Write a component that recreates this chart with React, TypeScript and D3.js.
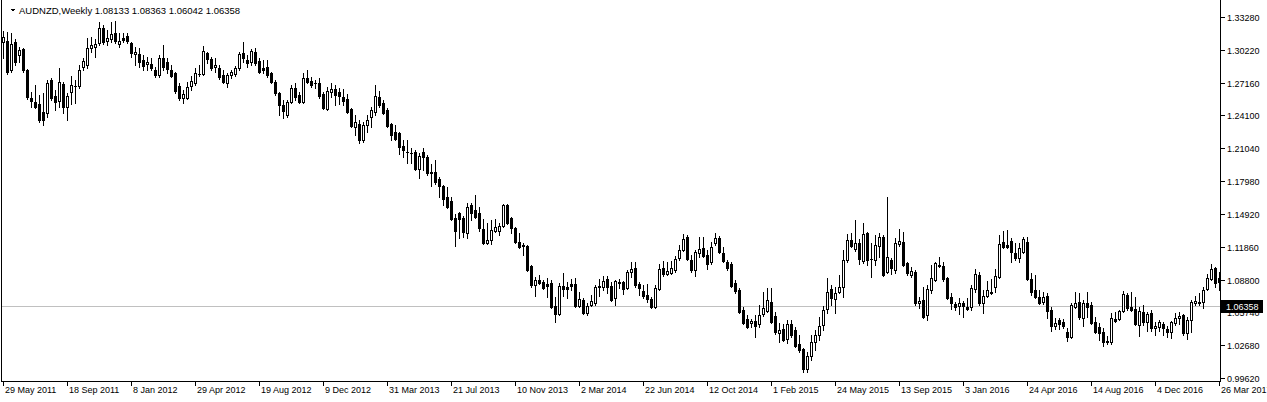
import React from 'react';
import * as d3 from 'd3';

const symbolTitle = 'AUDNZD,Weekly';
const lastBar = [1.08133, 1.08363, 1.06042, 1.06358];
const currentPrice = 1.06358;

const timeTickIndex = [0, 16, 32, 48, 64, 80, 96, 112, 128, 144, 160, 176, 192, 208, 224, 240, 256, 272, 288, 304];
const timeTickLabels = ['29 May 2011', '18 Sep 2011', '8 Jan 2012', '29 Apr 2012', '19 Aug 2012', '9 Dec 2012', '31 Mar 2013', '21 Jul 2013', '10 Nov 2013', '2 Mar 2014', '22 Jun 2014', '12 Oct 2014', '1 Feb 2015', '24 May 2015', '13 Sep 2015', '3 Jan 2016', '24 Apr 2016', '14 Aug 2016', '4 Dec 2016', '26 Mar 2017'];
const priceTicks = [1.3328, 1.3022, 1.2716, 1.241, 1.2104, 1.1798, 1.1492, 1.1186, 1.088, 1.0574, 1.0268, 0.9962];

const opens = [
1.3095,1.3104,1.2834,1.3095,1.2974,1.3030,1.2834,1.2573,1.2535,1.2517,
1.2442,1.2433,1.2741,1.2591,1.2545,1.2703,1.2489,1.2629,1.2685,1.2685,
1.2862,1.2880,1.3039,1.3048,1.3086,1.3226,1.3104,1.3123,1.3179,1.3076,
1.3132,1.3151,1.3086,1.2983,1.2983,1.2927,1.2890,1.2890,1.2834,1.2787,
1.2946,1.2908,1.2834,1.2806,1.2685,1.2573,1.2573,1.2685,1.2713,1.2798,
1.2796,1.2992,1.2936,1.2862,1.2852,1.2787,1.2713,1.2787,1.2796,1.2852,
1.2992,1.2927,1.2908,1.3002,1.2918,1.2852,1.2862,1.2806,1.2722,1.2619,
1.2507,1.2414,1.2535,1.2666,1.2601,1.2535,1.2759,1.2731,1.2713,1.2713,
1.2610,1.2470,1.2629,1.2657,1.2629,1.2582,1.2563,1.2470,1.2302,1.2330,
1.2181,1.2321,1.2395,1.2442,1.2582,1.2526,1.2461,1.2330,1.2256,1.2246,
1.2125,1.2069,1.2060,1.2069,1.1911,1.2069,1.2022,1.1883,1.1883,1.1817,
1.1752,1.1649,1.1612,1.1454,1.1500,1.1454,1.1314,1.1575,1.1528,1.1500,
1.1351,1.1221,1.1249,1.1332,1.1332,1.1379,1.1575,1.1454,1.1360,1.1230,
1.1202,1.1193,1.1006,1.0829,1.0876,1.0857,1.0838,1.0848,1.0633,1.0559,
1.0820,1.0810,1.0838,1.0838,1.0633,1.0689,1.0568,1.0643,1.0661,1.0810,
1.0810,1.0885,1.0820,1.0708,1.0848,1.0857,1.0801,1.0950,1.0987,1.0838,
1.0773,1.0736,1.0699,1.0624,1.0792,1.0987,1.0931,1.0941,1.0969,1.1081,
1.1155,1.1276,1.1062,1.0969,1.1127,1.1174,1.1109,1.1043,1.1221,1.1267,
1.1127,1.1043,1.1025,1.0848,1.0783,1.0596,1.0512,1.0475,1.0493,1.0465,
1.0559,1.0587,1.0671,1.0540,1.0382,1.0419,1.0326,1.0465,1.0410,1.0279,
1.0232,1.0046,1.0167,1.0298,1.0363,1.0456,1.0605,1.0792,1.0699,1.0764,
1.0810,1.1062,1.1249,1.1165,1.1221,1.1053,1.1314,1.1071,1.1062,1.1193,
1.1276,1.0950,1.1062,1.0969,1.1211,1.1230,1.1034,1.0922,1.0950,1.0661,
1.0689,1.0549,1.0783,1.0876,1.1015,1.1006,1.0894,1.0717,1.0652,1.0633,
1.0661,1.0624,1.0624,1.0792,1.0922,1.0661,1.0727,1.0764,1.0810,1.0903,
1.1230,1.1202,1.1239,1.1127,1.1081,1.1137,1.1230,1.0885,1.0783,1.0717,
1.0671,1.0727,1.0596,1.0447,1.0503,1.0484,1.0391,1.0344,1.0624,1.0671,
1.0521,1.0661,1.0643,1.0484,1.0437,1.0391,1.0298,1.0298,1.0512,1.0512,
1.0587,1.0736,1.0624,1.0605,1.0456,1.0577,1.0484,1.0568,1.0428,1.0437,
1.0465,1.0419,1.0391,1.0475,1.0521,1.0549,1.0382,1.0503,1.0661,1.0671,
1.0671,1.0792,1.0885,1.0987,1.0894];

const highs = [
1.3198,1.3188,1.3179,1.3123,1.3048,1.3039,1.2843,1.2629,1.2694,1.2601,
1.2619,1.2741,1.2759,1.2647,1.2852,1.2722,1.2619,1.2778,1.2741,1.2880,
1.2946,1.3132,1.3142,1.3123,1.3281,1.3253,1.3207,1.3281,1.3291,1.3179,
1.3179,1.3179,1.3095,1.3048,1.3039,1.2974,1.2955,1.2946,1.2862,1.2974,
1.3067,1.2946,1.2880,1.2815,1.2713,1.2647,1.2722,1.2778,1.2852,1.2880,
1.3058,1.3002,1.2955,1.2946,1.2880,1.2834,1.2806,1.2834,1.2871,1.3002,
1.3095,1.2974,1.3030,1.3039,1.2946,1.2927,1.2927,1.2815,1.2741,1.2629,
1.2554,1.2554,1.2694,1.2713,1.2629,1.2806,1.2834,1.2768,1.2741,1.2759,
1.2629,1.2675,1.2713,1.2694,1.2666,1.2657,1.2610,1.2479,1.2414,1.2368,
1.2349,1.2414,1.2489,1.2694,1.2638,1.2554,1.2479,1.2340,1.2321,1.2256,
1.2181,1.2181,1.2106,1.2088,1.2060,1.2106,1.2041,1.1957,1.1995,1.1836,
1.1761,1.1743,1.1649,1.1491,1.1510,1.1472,1.1594,1.1594,1.1668,1.1556,
1.1444,1.1407,1.1435,1.1444,1.1407,1.1584,1.1584,1.1463,1.1370,1.1314,
1.1221,1.1202,1.1015,1.0903,1.0922,1.0876,1.0894,1.0876,1.0717,1.0848,
1.0941,1.0857,1.0885,1.0894,1.0764,1.0708,1.0661,1.0736,1.0829,1.0885,
1.0913,1.0913,1.0857,1.0876,1.0885,1.0866,1.0969,1.1043,1.1043,1.0857,
1.0829,1.0838,1.0717,1.0829,1.1025,1.1053,1.1043,1.1053,1.1099,1.1202,
1.1304,1.1295,1.1109,1.1155,1.1276,1.1276,1.1155,1.1230,1.1314,1.1286,
1.1183,1.1062,1.1043,1.0876,1.0801,1.0624,1.0549,1.0512,1.0549,1.0643,
1.0764,1.0801,1.0801,1.0577,1.0475,1.0465,1.0503,1.0503,1.0437,1.0363,
1.0242,1.0204,1.0363,1.0410,1.0531,1.0633,1.0894,1.0829,1.0810,1.0922,
1.1155,1.1304,1.1314,1.1435,1.1258,1.1407,1.1323,1.1221,1.1295,1.1314,
1.1295,1.1649,1.1081,1.1267,1.1351,1.1323,1.1043,1.0997,1.0969,1.0717,
1.0810,1.0829,1.1015,1.1043,1.1090,1.1043,1.0903,1.0755,1.0671,1.0708,
1.0680,1.0708,1.0829,1.0978,1.0950,1.0783,1.0866,1.0885,1.0978,1.1295,
1.1332,1.1342,1.1267,1.1221,1.1221,1.1276,1.1276,1.0941,1.0922,1.0783,
1.0764,1.0755,1.0624,1.0521,1.0521,1.0512,1.0428,1.0661,1.0764,1.0755,
1.0689,1.0764,1.0671,1.0531,1.0475,1.0428,1.0354,1.0568,1.0577,1.0596,
1.0773,1.0755,1.0764,1.0717,1.0624,1.0643,1.0577,1.0596,1.0484,1.0503,
1.0484,1.0447,1.0493,1.0568,1.0577,1.0559,1.0531,1.0689,1.0727,1.0755,
1.0810,1.0931,1.1025,1.0997,1.0950];

const lows = [
1.2946,1.2796,1.2815,1.2880,1.2908,1.2815,1.2563,1.2489,1.2479,1.2349,
1.2321,1.2395,1.2554,1.2461,1.2489,1.2433,1.2368,1.2517,1.2526,1.2666,
1.2834,1.2852,1.3002,1.2955,1.3067,1.3076,1.3067,1.3095,1.3086,1.3048,
1.3095,1.3086,1.2955,1.2880,1.2862,1.2834,1.2834,1.2834,1.2768,1.2768,
1.2834,1.2806,1.2768,1.2619,1.2554,1.2526,1.2563,1.2647,1.2694,1.2778,
1.2787,1.2899,1.2834,1.2815,1.2750,1.2713,1.2675,1.2759,1.2778,1.2834,
1.2908,1.2862,1.2880,1.2880,1.2806,1.2806,1.2768,1.2713,1.2601,1.2414,
1.2386,1.2395,1.2526,1.2554,1.2526,1.2526,1.2713,1.2675,1.2666,1.2573,
1.2470,1.2461,1.2582,1.2507,1.2517,1.2507,1.2433,1.2302,1.2228,1.2153,
1.2162,1.2256,1.2302,1.2414,1.2489,1.2423,1.2302,1.2181,1.2181,1.2050,
1.2022,1.1967,1.1967,1.1901,1.1827,1.1901,1.1855,1.1752,1.1771,1.1649,
1.1575,1.1547,1.1435,1.1193,1.1267,1.1276,1.1267,1.1435,1.1454,1.1332,
1.1211,1.1211,1.1211,1.1323,1.1295,1.1370,1.1398,1.1314,1.1221,1.1174,
1.1109,1.0959,1.0810,1.0727,1.0838,1.0792,1.0717,1.0615,1.0484,1.0549,
1.0727,1.0708,1.0783,1.0624,1.0624,1.0559,1.0549,1.0633,1.0643,1.0727,
1.0783,1.0755,1.0680,1.0643,1.0801,1.0745,1.0792,1.0903,1.0810,1.0736,
1.0708,1.0671,1.0615,1.0615,1.0783,1.0913,1.0922,1.0931,1.0950,1.1062,
1.1146,1.1062,1.0950,1.0913,1.1090,1.1090,1.0978,1.1025,1.1202,1.1127,
1.1043,1.0969,1.0810,1.0755,1.0568,1.0465,1.0428,1.0437,1.0344,1.0437,
1.0540,1.0577,1.0475,1.0372,1.0298,1.0307,1.0288,1.0344,1.0251,1.0204,
1.0018,1.0018,1.0130,1.0223,1.0316,1.0410,1.0568,1.0643,1.0568,1.0755,
1.0717,1.1043,1.1183,1.1146,1.1025,1.1034,1.1015,1.0903,1.1015,1.1090,
1.0913,1.0941,1.0931,1.0941,1.1193,1.1006,1.0922,1.0903,1.0643,1.0615,
1.0521,1.0503,1.0755,1.0866,1.0997,1.0866,1.0699,1.0605,1.0596,1.0559,
1.0531,1.0596,1.0596,1.0764,1.0643,1.0568,1.0717,1.0745,1.0764,1.0894,
1.1174,1.1174,1.1043,1.1062,1.1043,1.1127,1.0876,1.0736,1.0708,1.0652,
1.0652,1.0521,1.0400,1.0419,1.0419,1.0428,1.0307,1.0335,1.0615,1.0512,
1.0447,1.0531,1.0465,1.0382,1.0316,1.0260,1.0279,1.0279,1.0484,1.0503,
1.0577,1.0596,1.0587,1.0456,1.0354,1.0456,1.0400,1.0400,1.0363,1.0400,
1.0363,1.0344,1.0335,1.0456,1.0465,1.0363,1.0326,1.0391,1.0643,1.0643,
1.0615,1.0783,1.0876,1.0810,1.0783];

const closes = [
1.3142,1.2815,1.3076,1.2908,1.3020,1.2834,1.2582,1.2545,1.2489,1.2368,
1.2368,1.2713,1.2573,1.2535,1.2722,1.2489,1.2591,1.2694,1.2680,1.2834,
1.2918,1.3039,1.3067,1.3076,1.3226,1.3095,1.3132,1.3170,1.3104,1.3104,
1.3114,1.3104,1.2992,1.3002,1.2908,1.2871,1.2908,1.2852,1.2787,1.2946,
1.2862,1.2843,1.2778,1.2638,1.2573,1.2610,1.2675,1.2731,1.2806,1.2794,
1.3011,1.2936,1.2852,1.2880,1.2768,1.2722,1.2787,1.2815,1.2852,1.2983,
1.2946,1.2899,1.3011,1.2899,1.2815,1.2834,1.2787,1.2722,1.2619,1.2507,
1.2451,1.2535,1.2666,1.2582,1.2535,1.2759,1.2722,1.2694,1.2708,1.2591,
1.2479,1.2638,1.2657,1.2601,1.2591,1.2545,1.2442,1.2312,1.2349,1.2181,
1.2321,1.2368,1.2461,1.2591,1.2507,1.2433,1.2312,1.2228,1.2190,1.2116,
1.2088,1.2065,1.2056,1.1911,1.2032,1.2022,1.1873,1.1869,1.1789,1.1752,
1.1631,1.1556,1.1444,1.1332,1.1444,1.1323,1.1556,1.1500,1.1463,1.1360,
1.1221,1.1249,1.1342,1.1370,1.1379,1.1575,1.1407,1.1360,1.1230,1.1183,
1.1197,1.0969,1.0829,1.0876,1.0848,1.0801,1.0820,1.0624,1.0559,1.0820,
1.0792,1.0792,1.0820,1.0633,1.0699,1.0568,1.0633,1.0680,1.0810,1.0820,
1.0866,1.0810,1.0689,1.0866,1.0857,1.0792,1.0950,1.0978,1.0829,1.0801,
1.0727,1.0699,1.0624,1.0801,1.0978,1.0931,1.0959,1.0987,1.1071,1.1155,
1.1258,1.1071,1.0969,1.1137,1.1165,1.1099,1.1025,1.1183,1.1267,1.1137,
1.1053,1.0987,1.0820,1.0773,1.0577,1.0475,1.0437,1.0493,1.0447,1.0549,
1.0615,1.0689,1.0484,1.0391,1.0410,1.0316,1.0465,1.0363,1.0260,1.0223,
1.0046,1.0167,1.0298,1.0363,1.0447,1.0596,1.0764,1.0708,1.0755,1.0810,
1.1062,1.1249,1.1193,1.1221,1.1071,1.1304,1.1062,1.1067,1.1202,1.1276,
1.0922,1.1090,1.0987,1.1221,1.1239,1.1015,1.0941,1.0959,1.0661,1.0680,
1.0531,1.0792,1.0894,1.1034,1.1006,1.0885,1.0708,1.0661,1.0624,1.0661,
1.0633,1.0610,1.0801,1.0931,1.0661,1.0727,1.0783,1.0750,1.0913,1.1211,
1.1183,1.1183,1.1137,1.1081,1.1174,1.1258,1.0885,1.0764,1.0717,1.0661,
1.0717,1.0587,1.0447,1.0475,1.0465,1.0447,1.0344,1.0643,1.0661,1.0531,
1.0661,1.0624,1.0475,1.0391,1.0382,1.0298,1.0307,1.0521,1.0493,1.0587,
1.0745,1.0615,1.0596,1.0465,1.0587,1.0484,1.0559,1.0428,1.0447,1.0484,
1.0428,1.0391,1.0484,1.0521,1.0540,1.0382,1.0503,1.0671,1.0680,1.0661,
1.0783,1.0894,1.0978,1.0848,1.0857];

const W = 1267;
const H = 402;
const plotLeft = 1;
const plotRight = 1220;
const plotBottom = 381;
const FONT = '"Liberation Sans", Arial, sans-serif';

export default function App() {
  const x = d3.scaleLinear().domain([0, 304]).range([3, 1219]);
  const y = d3.scaleLinear().domain([0.9962, 1.3328]).range([378, 17]);
  const fmt = d3.format('.5f');
  const n = Math.min(opens.length, highs.length, lows.length, closes.length);
  const candles = [];
  for (let i = 0; i < n; i++) {
    const o = opens[i], h = highs[i], l = lows[i], c = closes[i];
    const cx = Math.round(x(i));
    const yO = Math.round(y(o));
    const yC = Math.round(y(c));
    const yH = Math.round(y(h));
    const yL = Math.round(y(l));
    const top = Math.min(yO, yC);
    const bot = Math.max(yO, yC);
    const bull = c >= o;
    candles.push(
      <g key={i}>
        <line x1={cx + 0.5} x2={cx + 0.5} y1={yH} y2={yL + 1} stroke="#000" strokeWidth={1} />
        {bull && bot - top >= 2 ? (
          <rect x={cx - 0.5} y={top + 0.5} width={2} height={bot - top} fill="#fff" stroke="#000" strokeWidth={1} />
        ) : (
          <rect x={cx - 1} y={top} width={3} height={Math.max(1, bot - top + 1)} fill="#000" />
        )}
      </g>
    );
  }
  const yCur = Math.round(y(currentPrice)) + 0.5;
  return (
    <svg width={W} height={H} style={{ position: 'absolute', left: 0, top: 0, display: 'block', background: '#fff' }}
      shapeRendering="crispEdges">
      <defs>
        <clipPath id="plotClip">
          <rect x={plotLeft + 1} y={1} width={plotRight - plotLeft - 1} height={plotBottom - 1} />
        </clipPath>
      </defs>
      <rect x={0} y={0} width={W} height={H} fill="#fff" />
      <line x1={plotLeft} x2={plotRight} y1={yCur} y2={yCur} stroke="#c0c0c0" strokeWidth={1} />
      <g clipPath="url(#plotClip)">{candles}</g>
      <line x1={plotLeft + 0.5} x2={plotLeft + 0.5} y1={0} y2={plotBottom + 0.5} stroke="#000" />
      <line x1={plotLeft} x2={plotRight + 1} y1={plotBottom + 0.5} y2={plotBottom + 0.5} stroke="#000" />
      <line x1={plotRight + 0.5} x2={plotRight + 0.5} y1={0} y2={plotBottom + 1} stroke="#000" />
      {priceTicks.map((p, k) => {
        const ty = Math.round(y(p)) + 0.5;
        return (
          <g key={'p' + k}>
            <line x1={plotRight + 1} x2={plotRight + 5} y1={ty} y2={ty} stroke="#000" />
            <text x={plotRight + 7} y={ty + 3.5} fontFamily={FONT} fontSize={9} fill="#000">{fmt(p)}</text>
          </g>
        );
      })}
      <rect x={plotRight + 1} y={yCur - 6.5} width={42} height={13} fill="#000" />
      <text x={plotRight + 6} y={yCur + 3.5} fontFamily={FONT} fontSize={9} fill="#fff">{fmt(currentPrice)}</text>
      {timeTickIndex.map((ti, k) => {
        const tx = Math.round(x(ti)) + 0.5;
        return (
          <g key={'t' + k}>
            <line x1={tx} x2={tx} y1={plotBottom + 1} y2={plotBottom + 5} stroke="#000" />
            <text x={tx + 1.5} y={plotBottom + 12} fontFamily={FONT} fontSize={9} fill="#000">{timeTickLabels[k]}</text>
          </g>
        );
      })}
      <path d="M10,8.5 L16,8.5 L13,11.5 Z" fill="#000" />
      <text x={19} y={14} fontFamily={FONT} fontSize={9.5} fill="#000">
        {symbolTitle + '  ' + lastBar.map((v) => fmt(v)).join(' ')}
      </text>
    </svg>
  );
}
